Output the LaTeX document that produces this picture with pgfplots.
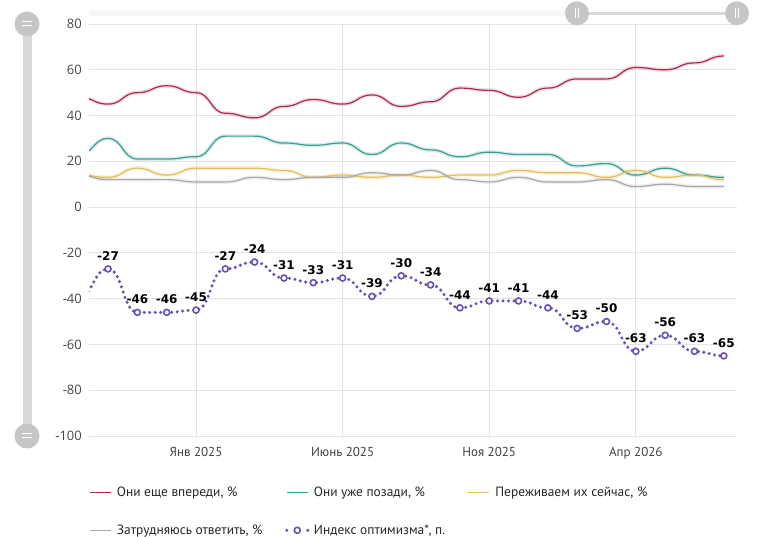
\documentclass[border=0pt]{standalone}
\usepackage{fontspec}
\setmainfont{PT Sans}
\newfontfamily\osans{Open Sans}
\newfontfamily\dejavu{DejaVu Sans}
\usepackage{pgfplots}
\pgfplotsset{compat=1.18}
\usepackage{pgfplotstable}

\definecolor{cred}{HTML}{A82C4C}
\definecolor{cteal}{HTML}{3A9E92}
\definecolor{cyel}{HTML}{E6BE5A}
\definecolor{cgray}{HTML}{A8A8A8}
\definecolor{cidx}{HTML}{6A4FB5}
\definecolor{cgrid}{HTML}{E3E3E3}
\definecolor{cslider}{HTML}{D9D9D9}

\makeatletter
\newif\ifhs@first
\def\hs@point#1{%
    \pgf@process{#1}%
    \edef\hs@cx{\the\pgf@x}\edef\hs@cy{\the\pgf@y}%
    \ifhs@first
      \global\hs@firstfalse
      \xdef\hs@px{\hs@cx}\xdef\hs@py{\hs@cy}%
      \pgfpathmoveto{\pgfqpoint{\hs@cx}{\hs@cy}}%
    \else
      \pgf@xb=\hs@px\relax
      \advance\pgf@xb by \hs@cx\relax
      \divide\pgf@xb by 2\relax
      \edef\hs@mx{\the\pgf@xb}%
      \edef\hs@oy{\hs@py}%
      \xdef\hs@px{\hs@cx}\xdef\hs@py{\hs@cy}%
      \pgfpathcurveto{\pgfqpoint{\hs@mx}{\hs@oy}}{\pgfqpoint{\hs@mx}{\hs@cy}}{\pgfqpoint{\hs@cx}{\hs@cy}}%
    \fi
}
\pgfdeclareplothandler{\pgfplothandlerhsmooth}{}{%
  start={\global\hs@firsttrue},
  point macro=\hs@point,
  jump={\global\hs@firsttrue},
  end={}%
}
\tikzset{hsmooth/.code={\def\tikz@plot@handler{\pgfplothandlerhsmooth}}}
\makeatother

% m: months, 0 = Jan 2025 (m=-4 lies left of the visible window)
\pgfplotstableread{
m   red teal yel gray idx
-4  48  23   14  14   -39
-3  45  30   13  12   -27
-2  50  21   17  12   -46
-1  53  21   14  12   -46
0   50  22   17  11   -45
1   41  31   17  11   -27
2   39  31   17  13   -24
3   44  28   16  12   -31
4   47  27   13  13   -33
5   45  28   14  13   -31
6   49  23   13  15   -39
7   44  28   14  14   -30
8   46  25   13  16   -34
9   52  22   14  12   -44
10  51  24   14  11   -41
11  48  23   16  13   -41
12  52  23   15  11   -44
13  56  18   15  11   -53
14  56  19   13  12   -50
15  61  14   16  9    -63
16  60  17   13  10   -56
17  63  14   14  9    -63
18  66  13   12  9    -65
}\datatable

\begin{document}
\begin{tikzpicture}
\useasboundingbox (0pt,0pt) rectangle (758pt,537pt);
\begin{axis}[
  at={(89pt,101pt)}, anchor=south west,
  scale only axis, width=648pt, height=412pt,
  xmin=-3.65, xmax=18.45, ymin=-100, ymax=80,
  xtick={0,5,10,15},
  xticklabels={Янв 2025,Июнь 2025,Ноя 2025,Апр 2026},
  ytick={-100,-80,...,80},
  grid=major, grid style={cgrid, line width=0.8pt},
  axis line style={draw=none}, major tick style={draw=none},
  /pgf/number format/assume math mode=true,
  yticklabel style={font=\osans\fontsize{13}{15}\selectfont, text=black!72, anchor=east, inner sep=0pt, xshift=-7pt},
  xticklabel style={font=\fontsize{13}{15}\selectfont, text=black!75, anchor=north, inner sep=0pt, yshift=-11pt},
  legend columns=3,
  legend cell align=left,
  legend style={draw=none, fill=none, inner sep=0pt,
    at={(axis description cs:0,0)}, anchor=north west, xshift=0pt, yshift=-48pt,
    font=\fontsize{13.4}{15}\selectfont, text=black!85,
    /tikz/every even column/.append style={column sep=20pt},
    row sep=22pt, nodes={inner sep=2.5pt}},
  legend image code/.code={\draw[#1, line width=1.3pt] (0pt,0pt) -- (21pt,0pt); \path (24pt,0pt);},
]
% halos
\addplot[forget plot, hsmooth, cred, opacity=0.16, line width=4pt] table[x=m,y=red] {\datatable};
\addplot[forget plot, hsmooth, cteal, opacity=0.18, line width=4pt] table[x=m,y=teal] {\datatable};
\addplot[forget plot, hsmooth, cyel, opacity=0.22, line width=4pt] table[x=m,y=yel] {\datatable};
\addplot[forget plot, hsmooth, cgray, opacity=0.18, line width=4pt] table[x=m,y=gray] {\datatable};
% lines
\addplot[hsmooth, cred, line width=1.2pt] table[x=m,y=red] {\datatable};
\addlegendentry{Они еще впереди, \%}
\addplot[hsmooth, cteal, line width=1.2pt] table[x=m,y=teal] {\datatable};
\addlegendentry{Они уже позади, \%}
\addplot[hsmooth, cyel, line width=1.2pt] table[x=m,y=yel] {\datatable};
\addlegendentry{Переживаем их сейчас, \%}
\addplot[hsmooth, cgray, line width=1.2pt] table[x=m,y=gray] {\datatable};
\addlegendentry{Затрудняюсь ответить, \%}
% index
\addplot[forget plot, hsmooth, cidx, line width=3.4pt, line cap=round, dash pattern=on 0pt off 5.5pt] table[x=m,y=idx] {\datatable};
\addplot[only marks, mark=*, mark size=3pt, mark options={fill=white, draw=cidx, line width=1.6pt},
  skip coords between index={0}{1},
  nodes near coords={\pgfmathprintnumber[assume math mode=true]{\pgfplotspointmeta}},
  every node near coord/.append style={font=\dejavu\bfseries\fontsize{12}{14}\selectfont, text=black, anchor=center, yshift=13pt, inner sep=0pt},
  legend image code/.code={%
    \draw[cidx, line width=3.4pt, line cap=round, dash pattern=on 0pt off 10.5pt] (0pt,0pt) -- (21pt,0pt);
    \draw[cidx, fill=white, line width=1.6pt] (10.5pt,0pt) circle (3pt);
    \path (24pt,0pt);}
] table[x=m,y=idx] {\datatable};
\addlegendentry{Индекс оптимизма*, п.}
\end{axis}
% sliders (interface decoration)
\fill[cslider] (22.5pt,101pt) rectangle (31.5pt,513pt);
\fill[cslider!90!black!95] (27pt,513pt) circle (12.5pt);
\fill[cslider!90!black!95] (27pt,101pt) circle (12.5pt);
\draw[white, line width=1pt] (22pt,515pt) -- (32pt,515pt) (22pt,511pt) -- (32pt,511pt);
\draw[white, line width=1pt] (22pt,103pt) -- (32pt,103pt) (22pt,99pt) -- (32pt,99pt);
\fill[black!3] (89pt,521pt) rectangle (577pt,527pt);
\draw[cslider, line width=3pt] (577pt,523.7pt) -- (737pt,523.7pt);
\fill[cslider!90!black!95] (577pt,523.7pt) circle (12pt);
\fill[cslider!90!black!95] (737pt,523.7pt) circle (12pt);
\draw[white, line width=0.9pt] (575.5pt,518.5pt) -- (575.5pt,529pt) (578.5pt,518.5pt) -- (578.5pt,529pt);
\draw[white, line width=0.9pt] (735.5pt,518.5pt) -- (735.5pt,529pt) (738.5pt,518.5pt) -- (738.5pt,529pt);
\end{tikzpicture}
\end{document}
